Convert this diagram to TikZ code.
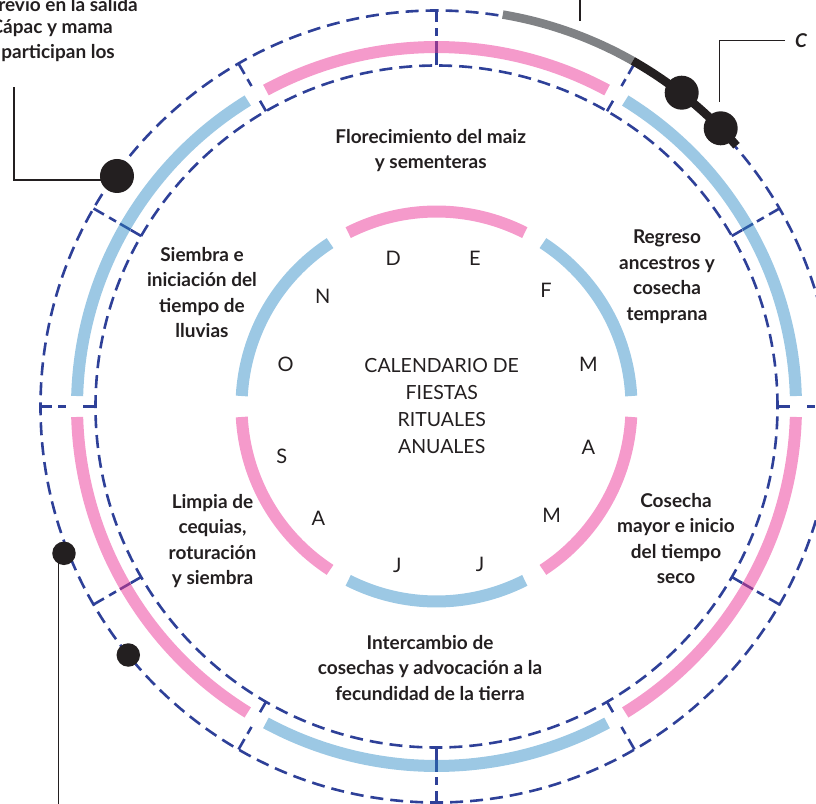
\documentclass[tikz,border=0pt]{standalone}
\usepackage{fontspec}
\setmainfont{Lato}
\definecolor{pinkc}{RGB}{245,154,203}
\definecolor{bluec}{RGB}{156,200,228}
\definecolor{dblue}{RGB}{46,64,152}
\definecolor{tickp}{RGB}{138,58,145}
\definecolor{tickb}{RGB}{44,92,166}
\definecolor{greyc}{RGB}{128,130,133}
\definecolor{blackc}{RGB}{35,31,32}
\begin{document}
\begin{tikzpicture}[x=1pt,y=1pt,
  dashcirc/.style={draw=dblue, line width=2.6pt, dash pattern=on 13pt off 7pt},
  dsolid/.style={draw=dblue, line width=2.6pt},
  lab/.style={font=\fontsize{19}{25.5}\selectfont\bfseries, align=center, inner sep=0pt, text=blackc},
  mon/.style={font=\fontsize{20}{24}\selectfont, inner sep=0pt, text=blackc},
  ttl/.style={font=\fontsize{19.5}{27}\selectfont, align=center, inner sep=0pt, text=blackc},
  leader/.style={draw=blackc, line width=1.2pt},
  dotc/.style={circle, fill=blackc, inner sep=0pt}]
\useasboundingbox (-436.5,-396.5) rectangle (379.5,406.5);
% bands
\foreach \c/\col in {90/pinkc,30/bluec,-30/pinkc,-90/bluec,-150/pinkc,150/bluec} {
  \draw[line width=12pt, \col] ({\c-28.33}:359.5) arc[start angle={\c-28.33}, end angle={\c+28.33}, radius=359.5];
  \draw[line width=12pt, \col] ({\c-26.92}:195) arc[start angle={\c-26.92}, end angle={\c+26.92}, radius=195];
}
% dashed circles
\draw[dashcirc] (0,0) circle[radius=396];
\draw[dashcirc] (0,0) circle[radius=341];
% radial separators
\foreach \a in {0,30,...,330} {
  \draw[dsolid] (\a:341) -- (\a:353);
  \draw[dashcirc, dash pattern=on 12pt off 6pt] (\a:396) -- (\a:370);
}
\foreach \a/\col in {90/tickp,-30/tickp,-150/tickp,30/tickb,-90/tickb,150/tickb}
  \draw[\col, line width=2.6pt] (\a:353.5) -- (\a:365.5);
% grey and black route
\draw[greyc, line width=8.5pt] (80.4:397.5) arc[start angle=80.4, end angle=60.4, radius=397.5];
\draw[blackc, line width=8.5pt] (60.4:397.5) arc[start angle=60.4, end angle=41, radius=397.5];
% dots
\node[dotc, minimum size=34pt] (d1) at (-319.5,230.5) {};
\node[dotc, minimum size=34pt] (d2) at (245.2,313.8) {};
\node[dotc, minimum size=34pt] (d3) at (284.2,278.2) {};
\node[dotc, minimum size=23.5pt] (d4) at (-372.5,-146.8) {};
\node[dotc, minimum size=23.5pt] (d5) at (-308.2,-248.5) {};
% leaders
\coordinate (l1) at (-422.5,319.2);
\draw[leader] (l1) |- ([yshift=-4pt]d1.center);
\coordinate (l2a) at (143.5,410);
\coordinate (l2b) at (143.5,385.5);
\draw[leader] (l2a) -- (l2b);
\coordinate (l3a) at (348.5,365.8);
\coordinate (l3b) at (282.8,304.8);
\draw[leader] (l3a) -| (l3b);
\coordinate (l4) at (-378.2,-400);
\draw[leader] (l4) -- (l4 |- d4.center);
% outer partial texts
\node[lab, anchor=east] (tl1) at (-298.5,401.5) {revio en la salida};
\node[lab, anchor=east] (tl2) at (-323.5,378.5) {Cápac y mama};
\node[lab, anchor=east] (tl3) at (-321.5,353.5) {participan los};
\node[lab, anchor=west, font=\fontsize{19}{25.5}\selectfont\bfseries\itshape] (tr) at (358.5,365.8) {C};
% labels
\node[lab] (s1) at (-5.8,256) {Florecimiento del maiz\\y sementeras};
\node[lab] (s2) at (230.5,130) {Regreso\\ancestros y\\cosecha\\temprana};
\node[lab] (s3) at (239.5,-132) {Cosecha\\mayor e inicio\\del tiempo\\seco};
\node[lab] (s4) at (-6.5,-261.5) {Intercambio de\\cosechas y advocación a la\\fecundidad de la tierra};
\node[lab] (s5) at (-224,-134.5) {Limpia de\\cequias,\\roturación\\y siembra};
\node[lab] (s6) at (-234.5,114) {Siembra e\\iniciación del\\tiempo de\\lluvias};
% title
\node[ttl] (title) at (5.2,0.5) {CALENDARIO DE\\FIESTAS\\RITUALES\\ANUALES};
% months
\node[mon] (mD) at (-43.2,148.2) {D};
\node[mon] (mE) at (38.5,148.2) {E};
\node[mon] (mF) at (109.5,115.8) {F};
\node[mon] (mM1) at (151.8,42.5) {M};
\node[mon] (mA1) at (151.8,-40.8) {A};
\node[mon] (mM2) at (115.2,-108.5) {M};
\node[mon] (mJ1) at (43.5,-157.5) {J};
\node[mon] (mJ2) at (-39.2,-158.5) {J};
\node[mon] (mA2) at (-118.2,-111.8) {A};
\node[mon] (mS) at (-154.8,-50.2) {S};
\node[mon] (mO) at (-150.8,42.5) {O};
\node[mon] (mN) at (-113.8,109.8) {N};
\end{tikzpicture}
\end{document}
